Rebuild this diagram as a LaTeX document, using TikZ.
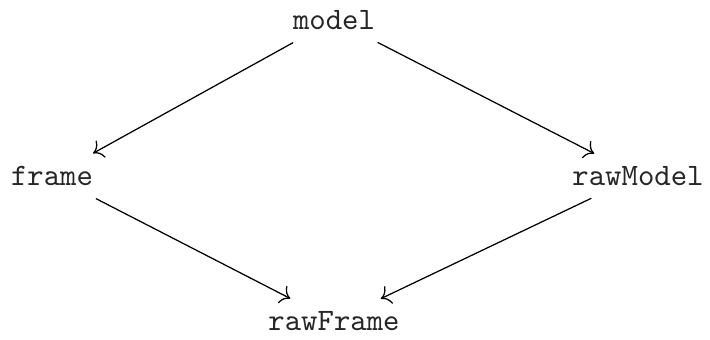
\documentclass[tikz,border=0pt]{standalone}
\usetikzlibrary{arrows.meta}
\begin{document}
\begin{tikzpicture}[x=0.3205pt,y=-0.3205pt,
  lbl/.style={font=\fontsize{10}{12}\ttfamily, text=black!85, inner sep=3pt},
  edge/.style={-{To[scale=1.2]}, shorten >=2pt, shorten <=2pt}]
\useasboundingbox (0,0) rectangle (710,340);
\node[lbl] (model) at (334,20) {model};
\node[lbl] (frame) at (52,176) {frame};
\node[lbl] (rawModel) at (638,176) {rawModel};
\node[lbl] (rawFrame) at (334,321) {rawFrame};
\draw[edge] (model) -- (frame);
\draw[edge] (model) -- (rawModel);
\draw[edge] (frame) -- (rawFrame);
\draw[edge] (rawModel) -- (rawFrame);
\end{tikzpicture}
\end{document}
